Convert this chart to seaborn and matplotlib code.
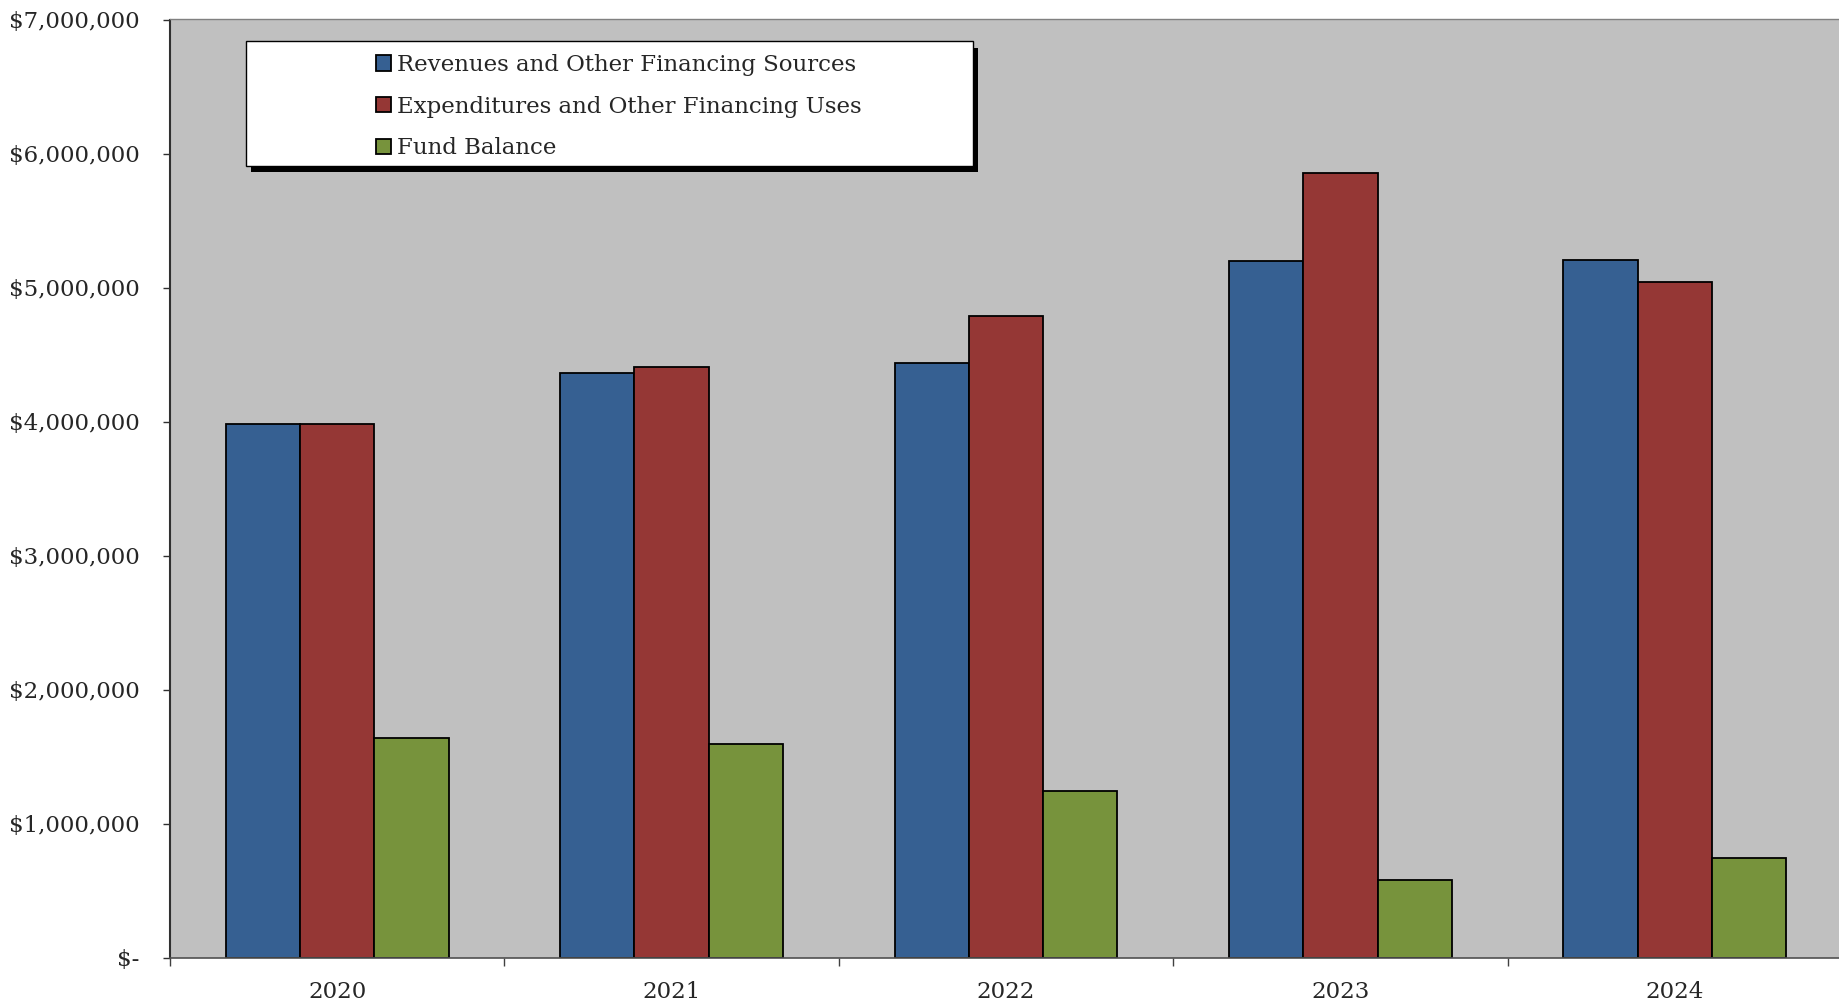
import matplotlib
matplotlib.use("Agg")
import matplotlib.pyplot as plt
from matplotlib.patches import Patch, Rectangle
import seaborn as sns
import pandas as pd

# Five-year summary of the fund
years = ["2020", "2021", "2022", "2023", "2024"]
series_names = [
    "Revenues and Other Financing Sources",
    "Expenditures and Other Financing Uses",
    "Fund Balance",
]
revenues = [3_982_000, 4_361_000, 4_440_000, 5_198_000, 5_203_000]
expenditures = [3_982_000, 4_405_000, 4_790_000, 5_855_000, 5_041_000]
fund_balance = [1_639_000, 1_594_000, 1_244_000, 582_000, 746_000]
y_ticks = [0, 1_000_000, 2_000_000, 3_000_000, 4_000_000, 5_000_000, 6_000_000, 7_000_000]

colors = ["#366092", "#953735", "#77933C"]

df = pd.DataFrame({
    "Year": years * 3,
    "Series": [series_names[0]] * 5 + [series_names[1]] * 5 + [series_names[2]] * 5,
    "Amount": revenues + expenditures + fund_balance,
})

sns.set_style("white")
plt.rcParams["font.family"] = ["DejaVu Serif"]

W, H = 1840, 1008
fig = plt.figure(figsize=(W / 100, H / 100), dpi=100)
ax = fig.add_axes([170 / W, 50.3 / H, 1672 / W, 938.2 / H])
ax.set_facecolor("#C0C0C0")

sns.barplot(
    data=df, x="Year", y="Amount", hue="Series", hue_order=series_names,
    palette=colors, saturation=1, width=2 / 3, gap=0, errorbar=None,
    edgecolor="black", linewidth=1.3, legend=False, ax=ax,
)

ax.set_xlim(-0.5, 4.5)
ax.set_ylim(0, 7_000_000)
ax.set_xlabel("")
ax.set_ylabel("")

# y axis: accounting-style dollar labels
ax.set_yticks(y_ticks)
ax.set_yticklabels([f"${v:,.0f}" if v else "$-" for v in y_ticks])
ax.tick_params(axis="y", which="major", direction="out", length=5, width=1,
               color="#303030", pad=17, labelsize=16.5, left=True)

# x axis: year labels centred, tick marks between categories
ax.set_xticks(range(len(years)))
ax.set_xticklabels(years)
ax.set_xticks([i - 0.5 for i in range(len(years) + 1)], minor=True)
ax.tick_params(axis="x", which="major", length=0, pad=16.5, labelsize=16.5, bottom=True)
ax.tick_params(axis="x", which="minor", direction="out", length=6, width=1,
               color="#404040", bottom=True)

for side in ["left", "bottom", "top", "right"]:
    ax.spines[side].set_visible(True)
ax.spines["left"].set_color("#303030")
ax.spines["left"].set_linewidth(1.5)
ax.spines["bottom"].set_color("#505050")
ax.spines["bottom"].set_linewidth(1.2)
ax.spines["top"].set_color("#808080")
ax.spines["top"].set_linewidth(1.0)
ax.spines["right"].set_color("#808080")

# legend box with drop shadow
bx0, by0, bx1, by1 = 246.4, 41.0, 972.8, 165.5
shadow = Rectangle(((bx0 + 5) / W, 1 - (by1 + 6.5) / H), (bx1 - bx0) / W, (by1 - by0) / H,
                   transform=fig.transFigure, facecolor="black", edgecolor="none",
                   zorder=3, clip_on=False)
box = Rectangle((bx0 / W, 1 - by1 / H), (bx1 - bx0) / W, (by1 - by0) / H,
                transform=fig.transFigure, facecolor="white", edgecolor="black",
                linewidth=1.0, zorder=4, clip_on=False)
ax.add_patch(shadow)
ax.add_patch(box)

handles = [Patch(facecolor=c, edgecolor="black", linewidth=1.3) for c in colors]
leg = ax.legend(
    handles, series_names, loc="upper left",
    bbox_to_anchor=(376 / W, 1 - 54 / H), bbox_transform=fig.transFigure,
    frameon=False, fontsize=16.5, borderpad=0, borderaxespad=0,
    handlelength=0.66, handleheight=0.66, handletextpad=0.26, labelspacing=0.86,
)
leg.set_zorder(5)

fig.savefig("out.png", dpi=100)
